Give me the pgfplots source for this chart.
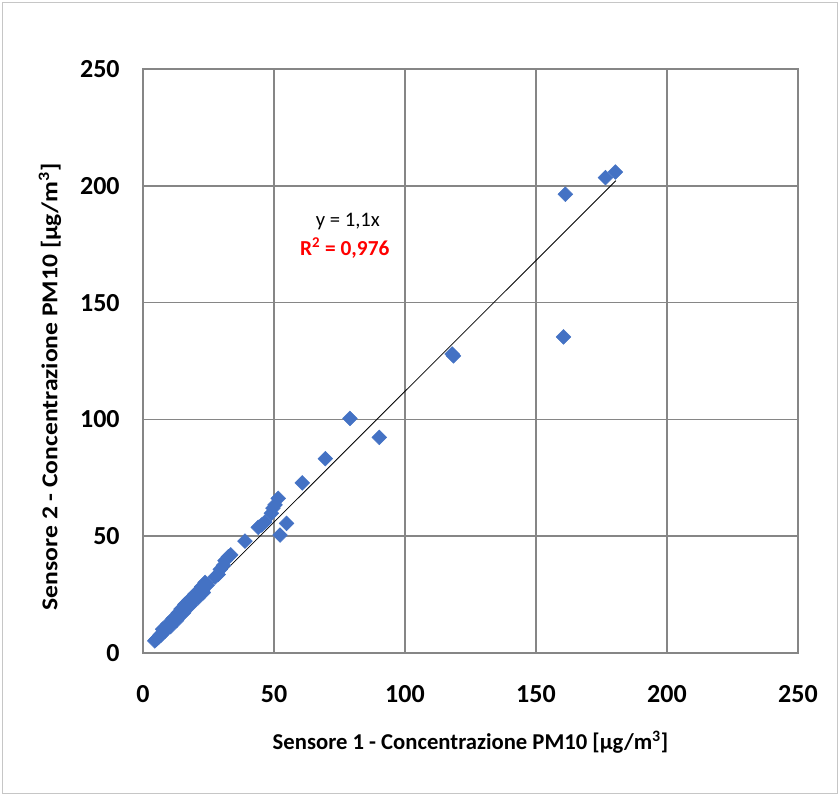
\documentclass[border=0pt]{standalone}
\usepackage{pgfplots}
\pgfplotsset{compat=1.18}
\usepackage{fontspec}
\setmainfont{Carlito}
\definecolor{ptblue}{RGB}{68,114,196}
\definecolor{gridgray}{RGB}{134,134,134}

\begin{document}
\begin{tikzpicture}[x=1pt,y=1pt]
% chart area frame (840x796 px at 0.75pt/px)
\useasboundingbox (-107.25,-107.25) rectangle (522.75,489.75);
\draw[gray!45, line width=0.8pt] (-105.5,-105.5) rectangle (521,488);
\begin{axis}[
    at={(0,0)}, anchor=south west,
    scale only axis,
    width=491.25pt, height=438pt,
    xmin=0, xmax=250,
    ymin=0, ymax=250,
    xtick={0,50,...,250},
    ytick={0,50,...,250},
    grid=major,
    grid style={gridgray, line width=1.1pt},
    axis line style={gridgray, line width=1.1pt},
    tick style={draw=none},
    ticklabel style={font=\fontsize{19.5}{21}\selectfont\bfseries},
    /pgf/number format/assume math mode=true,
    xticklabel style={yshift=-21pt},
    yticklabel style={xshift=-14pt},
    xlabel={Sensore 1 - Concentrazione PM10 [µg/m\textsuperscript{3}]},
    ylabel={\scalebox{1.13}[1]{Sensore 2 - Concentrazione PM10 [µg/m\textsuperscript{3}]}},
    label style={font=\fontsize{17}{19}\selectfont\bfseries},
    xlabel style={at={(axis description cs:0.5,-0.153)}, anchor=center},
    ylabel style={at={(axis description cs:-0.142,0.456)}, anchor=center, rotate=0},
    clip=false,
]
% linear trend line through the origin
\addplot[black, line width=0.6pt] coordinates {(4,4.48) (180.5,202.2)};

\addplot[only marks, mark=square*, mark size=3.9pt, color=ptblue,
    mark options={rotate=45, draw=ptblue, fill=ptblue}] coordinates {
(4.5,5.2) (5,5.8) (5.5,6.3) (6,6.8) (6.3,7.5) (6.8,7.6) (7,8.2) (7.4,8.4)
(7.8,9.0) (8,9.5) (8.3,9.2) (8.6,10.1) (9,10.4) (9.3,10.8) (9.6,11.3) (10,11.5)
(10.3,12.2) (10.7,12.4) (11,13) (11.4,13.2) (11.8,13.8) (12,14.3) (12.5,14.6)
(13,15.2) (13.4,15.6) (13.8,16.4) (14.2,16.6) (14.8,17.3) (15.4,18) (15.8,19.8)
(16.5,19.3) (17.3,20.5) (17.5,22.5) (18.3,21.5) (19,22.8) (19.5,23.4) (20.5,25.5)
(21.3,24.8) (22.4,28.4) (22.8,26.5) (23.7,30.2) (24.5,29) (27.5,32.5) (28.7,33.6)
(29.5,35.8) (30.7,37.5) (31.3,39.5) (32.6,41.2) (33.5,42) (38.9,47.9) (44,53.8)
(45.3,54.8) (46.5,56) (49,59.8) (49.6,62) (50.4,63.4) (51.6,66.2) (52.3,50.5)
(54.8,55.5) (60.8,72.8) (69.6,83.2) (79,100.4) (90.2,92.3) (118,128) (118.5,127.2)
(160.5,135.3) (161.2,196.4) (176.5,203.5) (180.3,205.9)
(7.5,10.2) (9.5,12.4) (11.5,14.8) (13.5,17.2) (16,20.8) (10.5,11.3) (12.8,13.9)
(15.5,17.2) (18,20.3) (21,23.6) (23,25.8) (14.5,18.8) (19.8,25.2)
};

\node[font=\fontsize{15.5}{17}\selectfont] at (axis cs:78.2,184.5) {y = 1,1x};
\node[font=\fontsize{16}{18}\selectfont\bfseries, text=red] at (axis cs:77.0,173.4) {R\textsuperscript{2} = 0,976};
\end{axis}
\end{tikzpicture}
\end{document}
